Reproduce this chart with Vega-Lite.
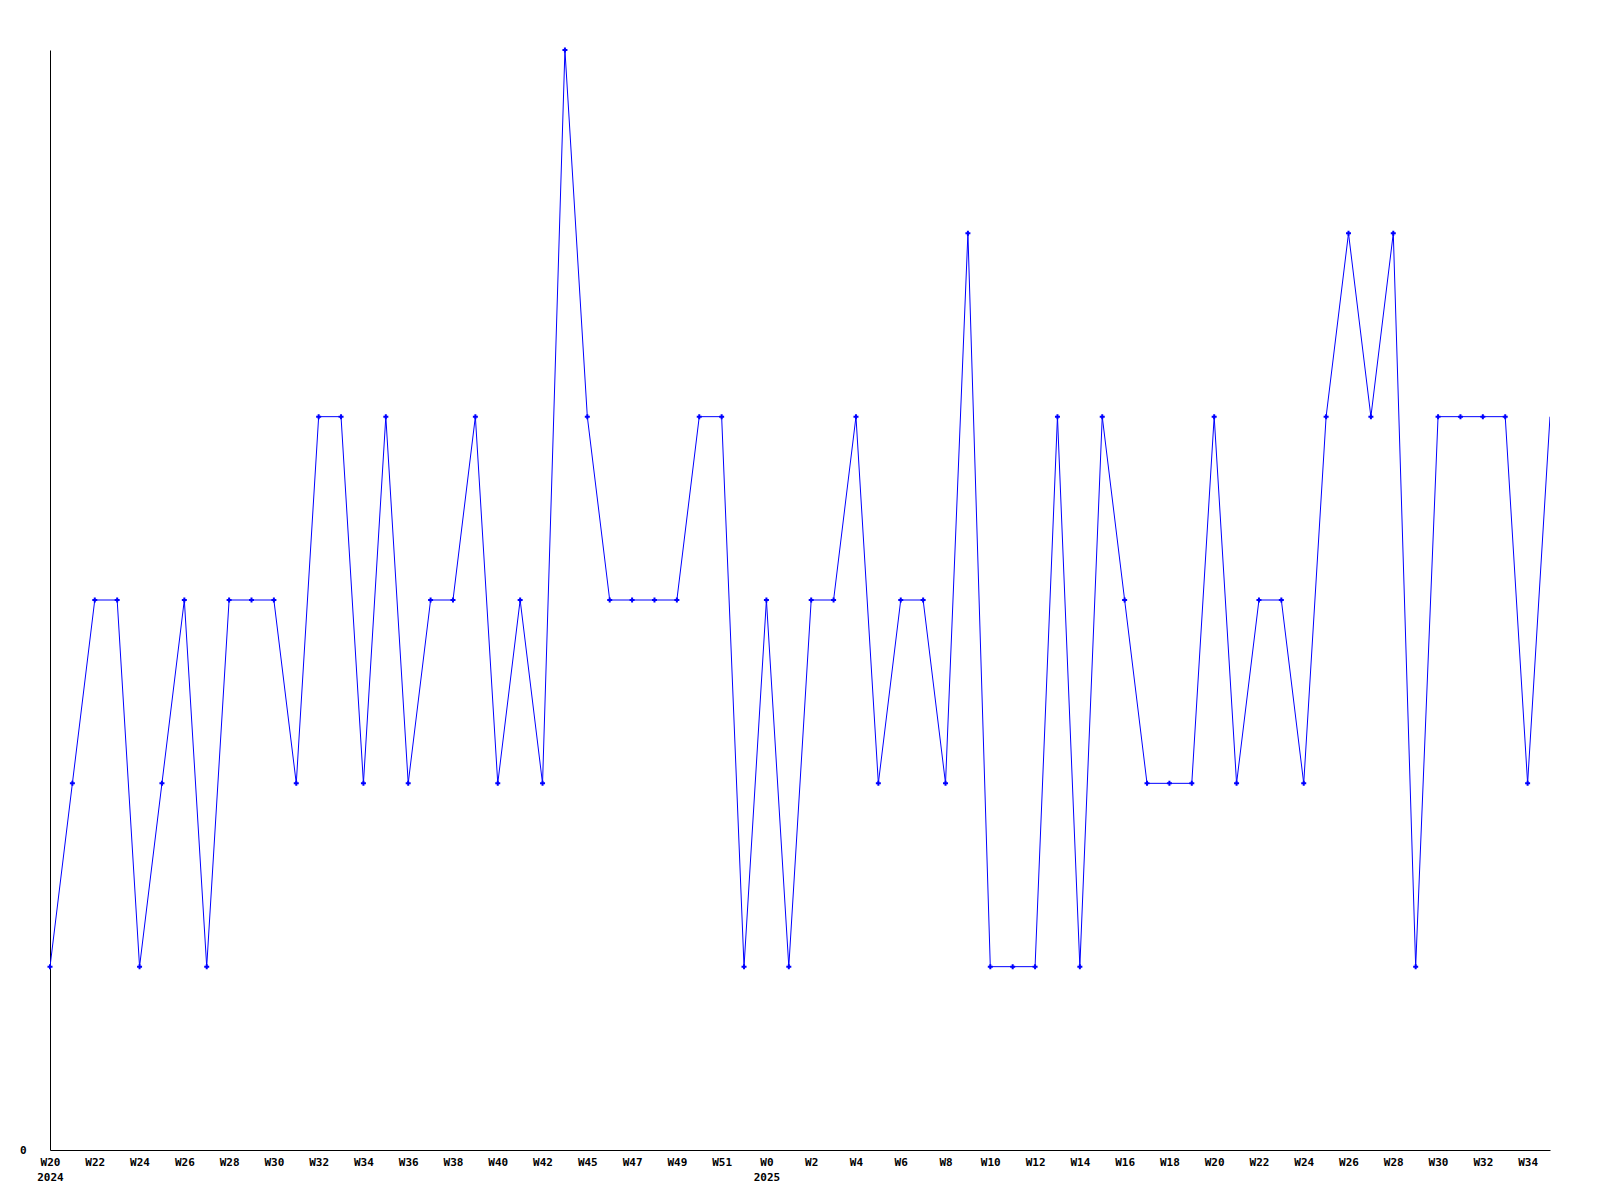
{
  "$schema": "https://vega.github.io/schema/vega-lite/v6.json",
  "autosize": {"type": "none"},
  "padding": {"left": 50, "top": 50, "right": 50, "bottom": 50},
  "width": 1500,
  "height": 1100,
  "background": "white",
  "config": {"view": {"stroke": null}},
  "data": {"values": [
    {"week": "2024-W20", "v": 1}, {"week": "2024-W21", "v": 2}, {"week": "2024-W22", "v": 3}, {"week": "2024-W23", "v": 3},
    {"week": "2024-W24", "v": 1}, {"week": "2024-W25", "v": 2}, {"week": "2024-W26", "v": 3}, {"week": "2024-W27", "v": 1},
    {"week": "2024-W28", "v": 3}, {"week": "2024-W29", "v": 3}, {"week": "2024-W30", "v": 3}, {"week": "2024-W31", "v": 2},
    {"week": "2024-W32", "v": 4}, {"week": "2024-W33", "v": 4}, {"week": "2024-W34", "v": 2}, {"week": "2024-W35", "v": 4},
    {"week": "2024-W36", "v": 2}, {"week": "2024-W37", "v": 3}, {"week": "2024-W38", "v": 3}, {"week": "2024-W39", "v": 4},
    {"week": "2024-W40", "v": 2}, {"week": "2024-W41", "v": 3}, {"week": "2024-W42", "v": 2}, {"week": "2024-W43", "v": 6},
    {"week": "2024-W45", "v": 4}, {"week": "2024-W46", "v": 3}, {"week": "2024-W47", "v": 3}, {"week": "2024-W48", "v": 3},
    {"week": "2024-W49", "v": 3}, {"week": "2024-W50", "v": 4}, {"week": "2024-W51", "v": 4}, {"week": "2024-W52", "v": 1},
    {"week": "2025-W0", "v": 3}, {"week": "2025-W1", "v": 1}, {"week": "2025-W2", "v": 3}, {"week": "2025-W3", "v": 3},
    {"week": "2025-W4", "v": 4}, {"week": "2025-W5", "v": 2}, {"week": "2025-W6", "v": 3}, {"week": "2025-W7", "v": 3},
    {"week": "2025-W8", "v": 2}, {"week": "2025-W9", "v": 5}, {"week": "2025-W10", "v": 1}, {"week": "2025-W11", "v": 1},
    {"week": "2025-W12", "v": 1}, {"week": "2025-W13", "v": 4}, {"week": "2025-W14", "v": 1}, {"week": "2025-W15", "v": 4},
    {"week": "2025-W16", "v": 3}, {"week": "2025-W17", "v": 2}, {"week": "2025-W18", "v": 2}, {"week": "2025-W19", "v": 2},
    {"week": "2025-W20", "v": 4}, {"week": "2025-W21", "v": 2}, {"week": "2025-W22", "v": 3}, {"week": "2025-W23", "v": 3},
    {"week": "2025-W24", "v": 2}, {"week": "2025-W25", "v": 4}, {"week": "2025-W26", "v": 5}, {"week": "2025-W27", "v": 4},
    {"week": "2025-W28", "v": 5}, {"week": "2025-W29", "v": 1}, {"week": "2025-W30", "v": 4}, {"week": "2025-W31", "v": 4},
    {"week": "2025-W32", "v": 4}, {"week": "2025-W33", "v": 4}, {"week": "2025-W34", "v": 2}, {"week": "2025-W35", "v": 4}
  ]},
  "encoding": {
    "x": {
      "field": "week", "type": "ordinal", "sort": null,
      "scale": {"type": "point", "padding": 0},
      "axis": {
        "title": null, "ticks": false, "grid": false,
        "domainColor": "black", "domainWidth": 1,
        "values": ["2024-W20","2024-W22","2024-W24","2024-W26","2024-W28","2024-W30","2024-W32","2024-W34","2024-W36","2024-W38","2024-W40","2024-W42","2024-W45","2024-W47","2024-W49","2024-W51","2025-W0","2025-W2","2025-W4","2025-W6","2025-W8","2025-W10","2025-W12","2025-W14","2025-W16","2025-W18","2025-W20","2025-W22","2025-W24","2025-W26","2025-W28","2025-W30","2025-W32","2025-W34"],
        "labelExpr": "datum.value == '2024-W20' ? ['W20', '2024'] : datum.value == '2025-W0' ? ['W0', '2025'] : split(datum.value, '-')[1]",
        "labelAngle": 0, "labelFont": "DejaVu Sans Mono", "labelFontWeight": "bold", "labelFontSize": 11,
        "labelColor": "black", "labelPadding": 6, "labelLineHeight": 15, "labelOverlap": false, "labelBaseline": "top"
      }
    },
    "y": {
      "field": "v", "type": "quantitative",
      "scale": {"domain": [0, 6], "nice": false, "zero": true},
      "axis": {
        "title": null, "ticks": false, "grid": false, "values": [0],
        "domainColor": "black", "domainWidth": 1,
        "labelFont": "DejaVu Sans Mono", "labelFontWeight": "bold", "labelFontSize": 11,
        "labelColor": "black", "labelPadding": 24
      }
    }
  },
  "layer": [
    {"mark": {"type": "line", "color": "#0000ff", "strokeWidth": 1, "clip": true}},
    {
      "transform": [{"filter": "datum.week != '2025-W35'"}],
      "mark": {"type": "point", "shape": "cross", "filled": true, "color": "#0000ff", "size": 25, "opacity": 1}
    }
  ]
}
